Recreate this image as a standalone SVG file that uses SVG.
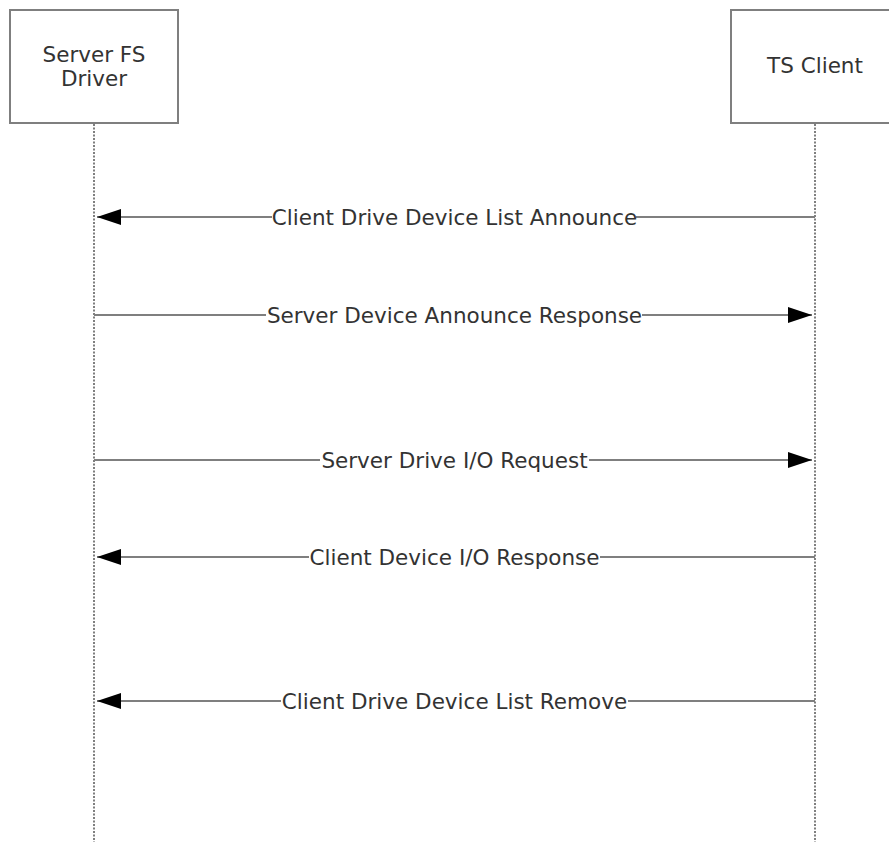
<svg xmlns="http://www.w3.org/2000/svg" width="889" height="842" viewBox="0 0 889 842">
<style>
.box{fill:#fff;stroke:#7f7f7f;stroke-width:2}
.life{stroke:#7f7f7f;stroke-width:2;stroke-dasharray:2 1.5;fill:none}
.msg{stroke:#7f7f7f;stroke-width:2;fill:none}
.t{font-family:"DejaVu Sans",Verdana,sans-serif;font-size:21.5px;fill:#333;text-anchor:middle}
.lbl{fill:#fff}
</style>
<defs>
<marker id="ah" markerWidth="24" markerHeight="16" refX="24" refY="8" orient="auto" markerUnits="userSpaceOnUse">
<path d="M0,0 L24,8 L0,16 Z" fill="#000"/>
</marker>
</defs>
<g id="lifelines">
<line class="life" x1="94" y1="124" x2="94" y2="842"/>
<line class="life" x1="815" y1="124" x2="815" y2="842"/>
</g>
<g id="node-server">
<rect class="box" x="10" y="10" width="168" height="113"/>
<text class="t" x="94" y="62">Server FS</text>
<text class="t" x="94" y="86">Driver</text>
</g>
<g id="node-client">
<rect class="box" x="731" y="10" width="168" height="113"/>
<text class="t" x="815" y="73">TS Client</text>
</g>
<g id="connectors">
<line class="msg" x1="815" y1="217" x2="97" y2="217" marker-end="url(#ah)"/>
<line class="msg" x1="94" y1="315" x2="812" y2="315" marker-end="url(#ah)"/>
<line class="msg" x1="94" y1="460" x2="812" y2="460" marker-end="url(#ah)"/>
<line class="msg" x1="815" y1="557" x2="97" y2="557" marker-end="url(#ah)"/>
<line class="msg" x1="815" y1="701" x2="97" y2="701" marker-end="url(#ah)"/>
</g>
<g id="labels">
<rect class="lbl" x="272" y="205" width="364" height="24"/>
<text class="t" x="454.5" y="225">Client Drive Device List Announce</text>
<rect class="lbl" x="266" y="303" width="376" height="24"/>
<text class="t" x="454.5" y="323">Server Device Announce Response</text>
<rect class="lbl" x="320" y="448" width="269" height="24"/>
<text class="t" x="454.5" y="468">Server Drive I/O Request</text>
<rect class="lbl" x="309" y="545" width="291" height="24"/>
<text class="t" x="454.5" y="565">Client Device I/O Response</text>
<rect class="lbl" x="281" y="689" width="347" height="24"/>
<text class="t" x="454.5" y="709">Client Drive Device List Remove</text>
</g>
</svg>
